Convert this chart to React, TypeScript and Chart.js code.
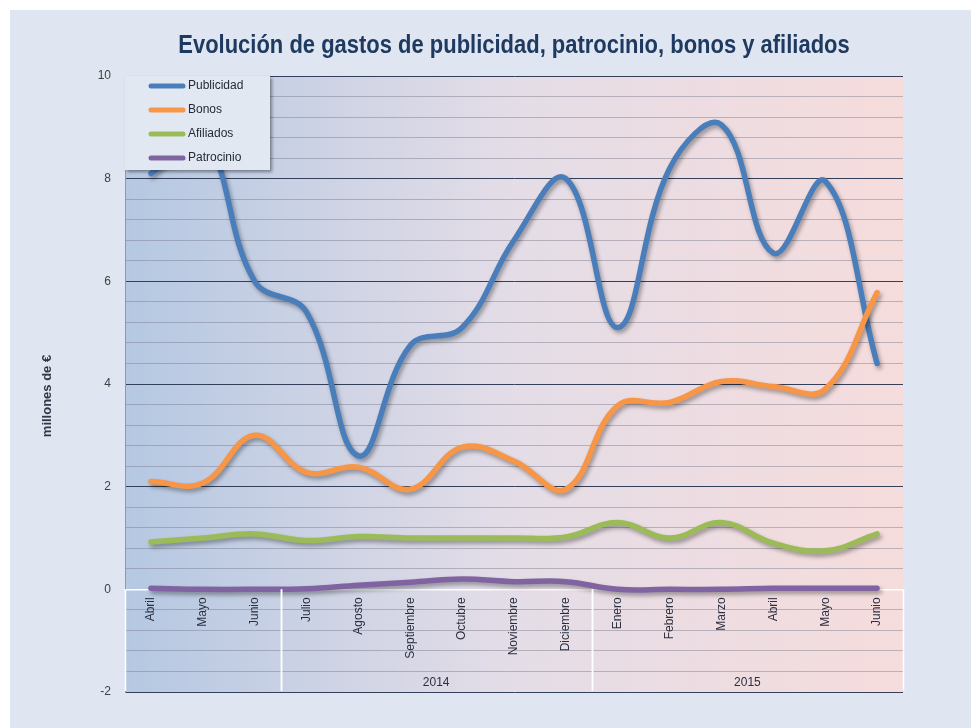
import React, { useEffect, useRef } from 'react';
import { Chart, registerables } from 'chart.js';

Chart.register(...registerables);

const titleText = 'Evolución de gastos de publicidad, patrocinio, bonos y afiliados';
const yAxisTitle = 'millones de €';

const categories = ['Abril', 'Mayo', 'Junio', 'Julio', 'Agosto', 'Septiembre', 'Octubre', 'Noviembre', 'Diciembre', 'Enero', 'Febrero', 'Marzo', 'Abril', 'Mayo', 'Junio'];
const yearLabels = ['', '2014', '2015'];
const yearStarts = [0, 3, 9];
const yearEnds = [2, 8, 14];

const publicidad = [8.1, 8.8, 6.0, 5.4, 2.6, 4.75, 5.1, 6.8, 8.0, 5.1, 8.2, 9.05, 6.55, 7.95, 4.4];
const bonos = [2.1, 2.07, 3.0, 2.28, 2.38, 1.95, 2.77, 2.5, 1.95, 3.58, 3.64, 4.05, 3.95, 3.9, 5.78];
const afiliados = [0.92, 1.0, 1.08, 0.95, 1.03, 1.0, 1.0, 1.0, 1.02, 1.3, 1.0, 1.3, 0.9, 0.75, 1.08];
const patrocinio = [0.02, 0.0, 0.0, 0.01, 0.08, 0.14, 0.2, 0.15, 0.15, 0.0, 0.0, 0.0, 0.02, 0.02, 0.02];

const seriesNames = ['Publicidad', 'Bonos', 'Afiliados', 'Patrocinio'];
const seriesColors = ['#4a7ebb', '#f79646', '#9bbb59', '#8064a2'];
const seriesOrder = [2, 1, 3, 4];

const yMin = -2;
const yMax = 10;
const yMajorStep = 2;
const yMinorStep = 0.4;

const FONT = '"Liberation Sans", Arial, sans-serif';

const isMajor = (v: number) => Math.abs(v / yMajorStep - Math.round(v / yMajorStep)) < 1e-6;

const backgroundPlugin = {
  id: 'panelBackground',
  beforeDraw(chart: any) {
    const { ctx, chartArea: a, width, height } = chart;
    ctx.save();
    ctx.fillStyle = '#ffffff';
    ctx.fillRect(0, 0, width, height);
    ctx.fillStyle = '#dfe6f1';
    ctx.fillRect(10, 10, width - 10, height - 10);
    const g = ctx.createLinearGradient(a.left, 0, a.right, 0);
    g.addColorStop(0, '#b5c8e2');
    g.addColorStop(0.5, '#e4dde7');
    g.addColorStop(1, '#f6dcdc');
    ctx.fillStyle = g;
    ctx.fillRect(a.left, a.top, a.right - a.left, a.bottom - a.top);
    // title (condensed look via horizontal scale)
    ctx.save();
    ctx.translate((a.left + a.right) / 2, 46);
    ctx.scale(0.845, 1);
    ctx.font = 'bold 26px ' + FONT;
    ctx.fillStyle = '#1f3a60';
    ctx.textAlign = 'center';
    ctx.textBaseline = 'middle';
    ctx.fillText(titleText, 0, 0);
    ctx.restore();
    ctx.restore();
  },
};

const shadowPlugin = {
  id: 'lineShadow',
  beforeDatasetDraw(chart: any) {
    const ctx = chart.ctx;
    ctx.save();
    ctx.shadowColor = 'rgba(0,0,0,0.35)';
    ctx.shadowBlur = 4;
    ctx.shadowOffsetX = 2;
    ctx.shadowOffsetY = 3;
  },
  afterDatasetDraw(chart: any) {
    chart.ctx.restore();
  },
};

const overlayPlugin = {
  id: 'overlay',
  afterDatasetsDraw(chart: any) {
    const { ctx, chartArea: a, scales } = chart;
    const x = scales.x;
    const y = scales.y;
    const y0 = y.getPixelForValue(0);
    const n = categories.length;
    const edge = (i: number) =>
      i <= 0 ? a.left : i >= n ? a.right : (x.getPixelForValue(i - 1) + x.getPixelForValue(i)) / 2;

    ctx.save();
    // group separators
    ctx.strokeStyle = '#ffffff';
    ctx.lineWidth = 1.5;
    const bounds: number[] = [];
    yearStarts.forEach((s, k) => {
      bounds.push(s);
      bounds.push(yearEnds[k] + 1);
    });
    bounds.forEach((b) => {
      const px = Math.round(edge(b)) + 0.5;
      ctx.beginPath();
      ctx.moveTo(px, y0);
      ctx.lineTo(px, a.bottom - 1);
      ctx.stroke();
    });
    // year labels
    ctx.fillStyle = '#2a3040';
    ctx.font = '12px ' + FONT;
    ctx.textAlign = 'center';
    ctx.textBaseline = 'middle';
    yearLabels.forEach((lab, k) => {
      if (!lab) return;
      const cx = (edge(yearStarts[k]) + edge(yearEnds[k] + 1)) / 2;
      ctx.fillText(lab, cx, a.bottom - 9);
    });
    // y axis title
    ctx.save();
    ctx.translate(47, 396);
    ctx.rotate(-Math.PI / 2);
    ctx.font = 'bold 13px ' + FONT;
    ctx.fillStyle = '#2f3648';
    ctx.fillText(yAxisTitle, 0, 0);
    ctx.restore();

    // legend
    const lx = a.left;
    const ly = a.top;
    const lw = 145;
    const lh = 94;
    ctx.save();
    ctx.shadowColor = 'rgba(0,0,0,0.4)';
    ctx.shadowBlur = 3;
    ctx.shadowOffsetX = 2;
    ctx.shadowOffsetY = 2;
    ctx.fillStyle = '#e2e8f2';
    ctx.fillRect(lx, ly, lw, lh);
    ctx.restore();
    chart.data.datasets.forEach((ds: any, i: number) => {
      const ry = ly + 10 + i * 24;
      ctx.save();
      ctx.strokeStyle = ds.borderColor;
      ctx.lineWidth = 5;
      ctx.lineCap = 'round';
      ctx.beginPath();
      ctx.moveTo(lx + 26, ry);
      ctx.lineTo(lx + 58, ry);
      ctx.stroke();
      ctx.restore();
      ctx.fillStyle = '#262a36';
      ctx.font = '12px ' + FONT;
      ctx.textAlign = 'left';
      ctx.textBaseline = 'middle';
      ctx.fillText(ds.label, lx + 63, ry);
    });
    ctx.restore();
  },
};

export default function App() {
  const canvasRef = useRef<HTMLCanvasElement | null>(null);

  useEffect(() => {
    const canvas = canvasRef.current;
    if (!canvas) return;
    const values = [publicidad, bonos, afiliados, patrocinio];
    const chart = new Chart(canvas, {
      type: 'line',
      data: {
        labels: categories,
        datasets: values.map((d, i) => ({
          label: seriesNames[i],
          data: d,
          borderColor: seriesColors[i],
          backgroundColor: seriesColors[i],
          borderWidth: 5.5,
          tension: 0.4,
          pointRadius: 0,
          pointHoverRadius: 0,
          borderCapStyle: 'round',
          borderJoinStyle: 'round',
          fill: false,
          order: seriesOrder[i],
        })),
      },
      options: {
        responsive: false,
        animation: false,
        devicePixelRatio: 1,
        events: [],
        layout: { padding: { left: 10, right: 68, top: 76, bottom: 36 } },
        plugins: {
          legend: { display: false },
          tooltip: { enabled: false },
          title: { display: false },
        },
        scales: {
          x: {
            type: 'category',
            position: { y: 0 },
            offset: true,
            grid: { display: false, drawTicks: false },
            border: { display: true, color: '#ffffff', width: 1.5 },
            ticks: {
              autoSkip: false,
              minRotation: 90,
              maxRotation: 90,
              padding: 8,
              color: '#2a3040',
              font: { family: FONT, size: 12 },
            },
          },
          y: {
            min: yMin,
            max: yMax,
            position: 'left',
            afterFit: (s: any) => {
              s.width = 115;
            },
            ticks: {
              stepSize: yMinorStep,
              autoSkip: false,
              padding: 14,
              color: '#404040',
              font: { family: FONT, size: 12 },
              callback: (v: any) => (isMajor(Number(v)) ? String(Math.round(Number(v))) : ''),
            },
            grid: {
              drawTicks: false,
              lineWidth: 1,
              color: (c: any) => {
                const v = c.tick ? c.tick.value : 1;
                if (Math.abs(v) < 1e-6) return '#ffffff';
                return isMajor(v) ? '#34405a' : 'rgba(120,120,138,0.45)';
              },
            },
            border: { display: true, color: '#8d99ad', width: 1 },
          },
        },
      },
      plugins: [backgroundPlugin, shadowPlugin, overlayPlugin],
    } as any);
    return () => chart.destroy();
  }, []);

  return (
    <div style={{ position: 'fixed', left: 0, top: 0, width: 971, height: 728, background: '#ffffff' }}>
      <canvas ref={canvasRef} width={971} height={728} style={{ display: 'block', width: 971, height: 728 }} />
    </div>
  );
}
